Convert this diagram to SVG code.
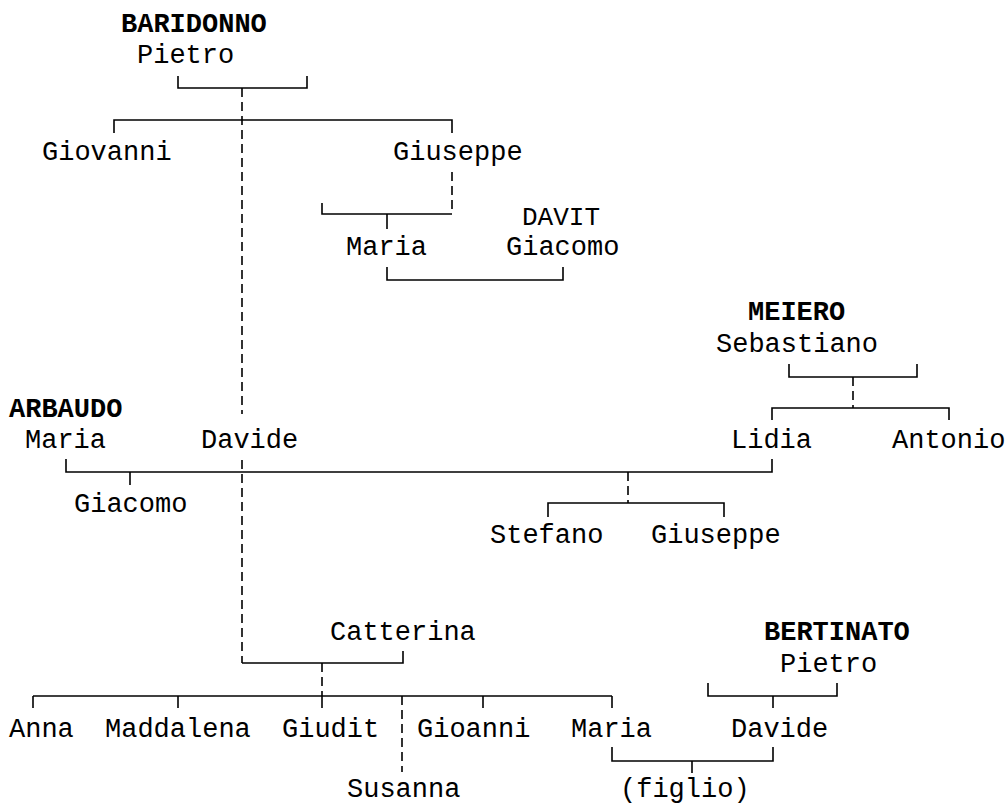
<svg xmlns="http://www.w3.org/2000/svg" width="1007" height="805" viewBox="0 0 1007 805">
<style>
text{font-family:"Liberation Mono","DejaVu Sans Mono",monospace;font-size:27px;fill:#000}
.s{font-weight:bold}
.d{font-size:26px}
line{stroke:#000;stroke-width:1.6;fill:none}
.dash{stroke-dasharray:9 5}
</style>
<rect width="1007" height="805" fill="#fff"/>
<g id="connectors">
<polyline points="178,76 178,88 307,88 307,76" fill="none" stroke="#000" stroke-width="1.6"/>
<line class="dash" x1="242" y1="88" x2="242" y2="414"/>
<polyline points="114,133 114,120 452,120 452,133" fill="none" stroke="#000" stroke-width="1.6"/>
<line class="dash" x1="452" y1="172" x2="452" y2="214"/>
<polyline points="322,203 322,214 452,214" fill="none" stroke="#000" stroke-width="1.6"/>
<line x1="387" y1="214" x2="387" y2="229"/>
<polyline points="387,267 387,280 563,280 563,267" fill="none" stroke="#000" stroke-width="1.6"/>
<polyline points="789,364 789,377 917,377 917,364" fill="none" stroke="#000" stroke-width="1.6"/>
<line class="dash" x1="853" y1="377" x2="853" y2="408"/>
<polyline points="772,420 772,408 949,408 949,420" fill="none" stroke="#000" stroke-width="1.6"/>
<polyline points="66,459 66,472 772,472 772,459" fill="none" stroke="#000" stroke-width="1.6"/>
<line x1="130" y1="472" x2="130" y2="485"/>
<line class="dash" x1="242" y1="460" x2="242" y2="663"/>
<line class="dash" x1="628" y1="472" x2="628" y2="503"/>
<polyline points="548,517 548,503 724,503 724,517" fill="none" stroke="#000" stroke-width="1.6"/>
<polyline points="242,663 403,663 403,651" fill="none" stroke="#000" stroke-width="1.6"/>
<line class="dash" x1="322" y1="663" x2="322" y2="696"/>
<line x1="33" y1="696" x2="612" y2="696"/>
<line x1="33" y1="696" x2="33" y2="708"/>
<line x1="178" y1="696" x2="178" y2="708"/>
<line x1="322" y1="696" x2="322" y2="708"/>
<line class="dash" x1="402" y1="696" x2="402" y2="772"/>
<line x1="483" y1="696" x2="483" y2="708"/>
<line x1="612" y1="696" x2="612" y2="708"/>
<polyline points="708,683 708,696 837,696 837,683" fill="none" stroke="#000" stroke-width="1.6"/>
<line x1="773" y1="696" x2="773" y2="708"/>
<polyline points="612,747 612,761 773,761 773,747" fill="none" stroke="#000" stroke-width="1.6"/>
<line x1="692" y1="761" x2="692" y2="773"/>
</g>
<g id="baridonno-pietro"><text class="s" x="121" y="32">BARIDONNO</text><text x="137" y="63">Pietro</text></g>
<g id="giovanni"><text x="42" y="160">Giovanni</text></g>
<g id="giuseppe1"><text x="393" y="160">Giuseppe</text></g>
<g id="maria1"><text x="346" y="255">Maria</text></g>
<g id="davit-giacomo"><text class="d" x="522" y="225">DAVIT</text><text x="506" y="255">Giacomo</text></g>
<g id="meiero-sebastiano"><text class="s" x="748" y="320">MEIERO</text><text x="716" y="352">Sebastiano</text></g>
<g id="lidia"><text x="731" y="448">Lidia</text></g>
<g id="antonio"><text x="892" y="448">Antonio</text></g>
<g id="arbaudo-maria"><text class="s" x="9" y="417">ARBAUDO</text><text x="25" y="448">Maria</text></g>
<g id="davide1"><text x="201" y="448">Davide</text></g>
<g id="giacomo2"><text x="74" y="512">Giacomo</text></g>
<g id="stefano"><text x="490" y="543">Stefano</text></g>
<g id="giuseppe2"><text x="651" y="543">Giuseppe</text></g>
<g id="catterina"><text x="330" y="640">Catterina</text></g>
<g id="anna"><text x="9" y="737">Anna</text></g>
<g id="maddalena"><text x="105" y="737">Maddalena</text></g>
<g id="giudit"><text x="282" y="737">Giudit</text></g>
<g id="gioanni"><text x="417" y="737">Gioanni</text></g>
<g id="maria2"><text x="571" y="737">Maria</text></g>
<g id="susanna"><text x="347" y="797">Susanna</text></g>
<g id="bertinato-pietro"><text class="s" x="764" y="640">BERTINATO</text><text x="780" y="672">Pietro</text></g>
<g id="davide2"><text x="731" y="737">Davide</text></g>
<g id="figlio"><text x="620" y="797">(figlio)</text></g>
</svg>
